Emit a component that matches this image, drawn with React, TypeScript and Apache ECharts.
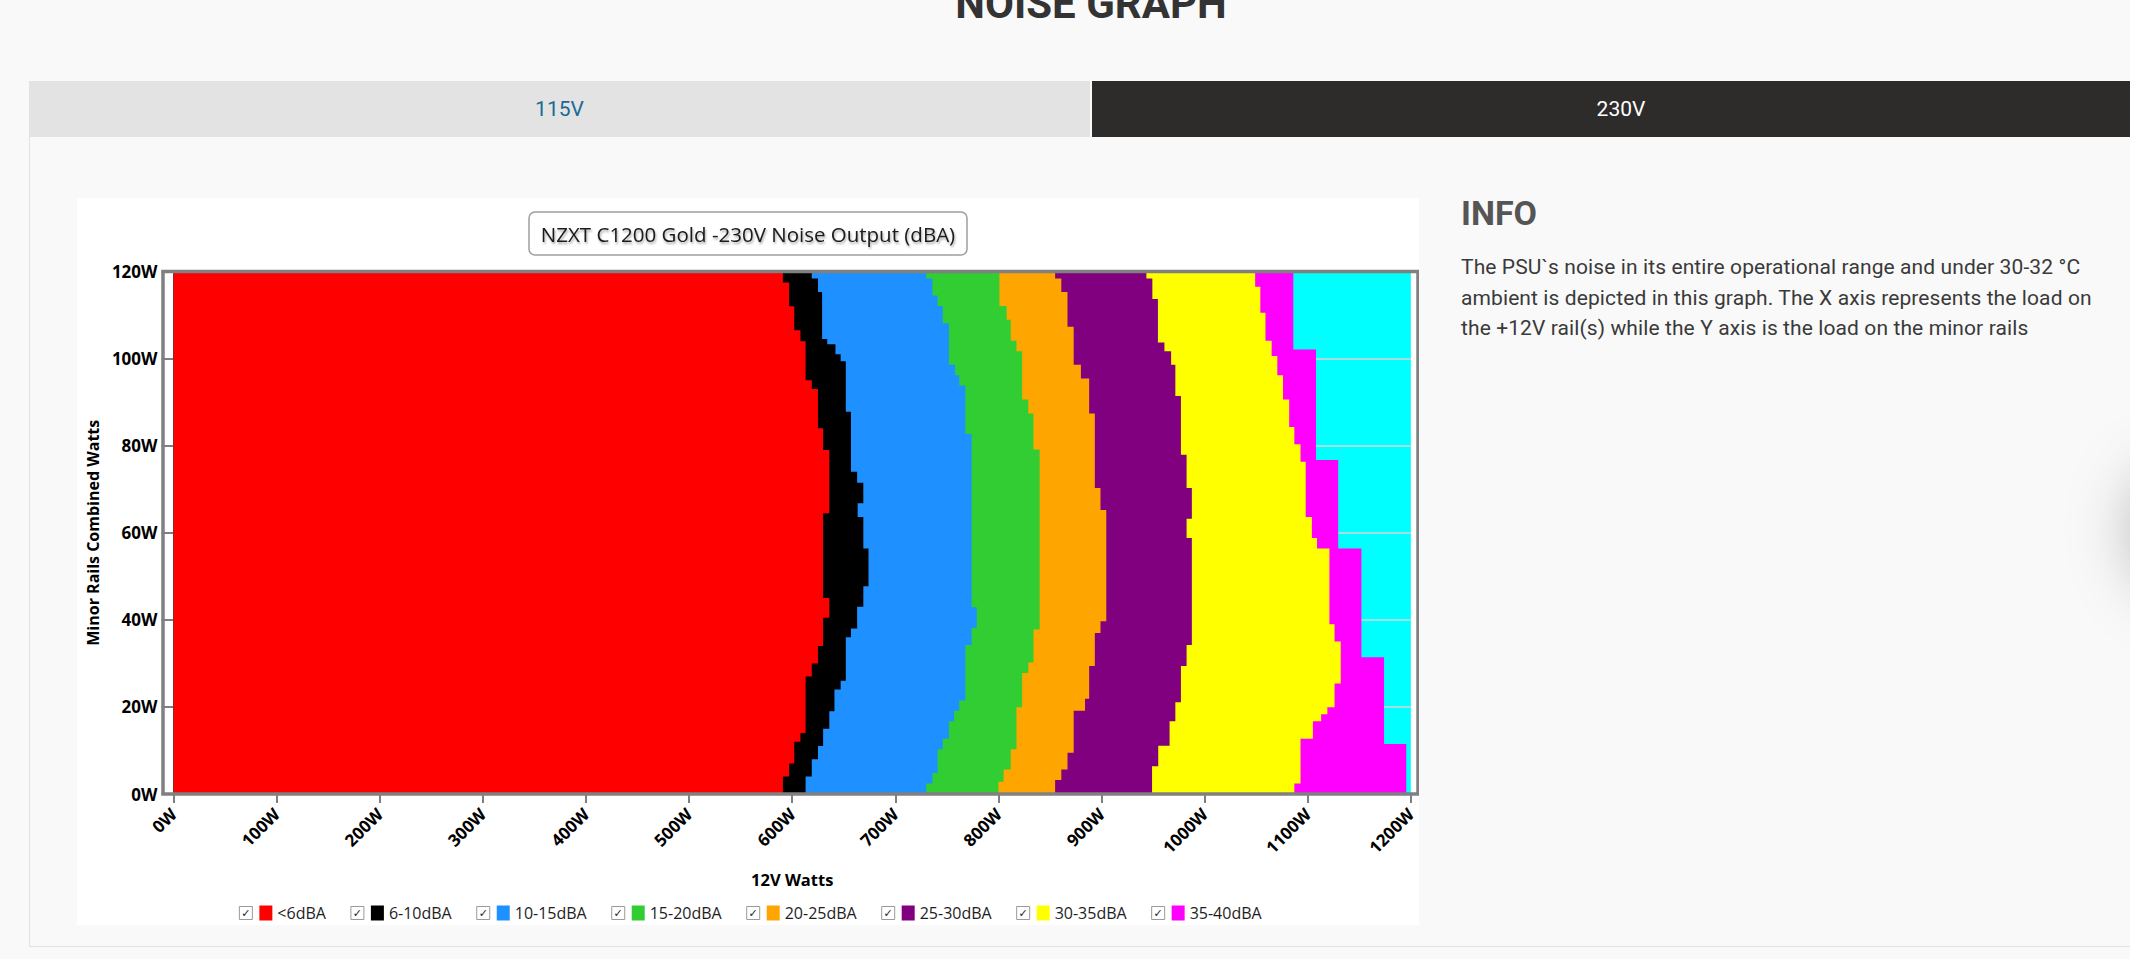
import React, { useRef, useEffect } from "react";
import * as echarts from "echarts";

// noise bands, left to right
const bandNames = ["<6dBA", "6-10dBA", "10-15dBA", "15-20dBA", "20-25dBA", "25-30dBA", "30-35dBA", "35-40dBA"];
const bandColors = ["#ff0000", "#000000", "#1e90ff", "#32cd32", "#ffa500", "#800080", "#ffff00", "#ff00ff"];

const xTickLabels = ["0W", "100W", "200W", "300W", "400W", "500W", "600W", "700W", "800W", "900W", "1000W", "1100W", "1200W"];
const yTickLabels = ["0W", "20W", "40W", "60W", "80W", "100W", "120W"];

// right edge of each band: [minor rails W where the step starts, 12V W]
const redEdge = [[0, 591], [4, 597], [7, 602], [12, 608], [14, 613], [27, 619], [30, 625], [34, 630], [40.5, 636], [45, 630], [64.5, 636], [79, 630], [84, 625], [93, 619], [95, 613], [104, 608], [106.5, 602], [112, 597], [117.5, 591]];
const blackEdge = [[0, 613], [4, 619], [8, 625], [11, 630], [15, 636], [19, 641], [24, 647], [26, 652], [36, 657], [38, 663], [43, 669], [47.7, 674], [56.4, 669], [63.6, 663.5], [66.8, 669], [71.5, 663], [74, 657], [87.8, 652], [99.4, 647], [101, 642], [103.3, 634], [104.5, 629], [115.3, 625], [118.4, 619]];
const blueEdge = [[0, 730], [2.4, 736], [4.8, 741], [10.3, 746], [12.7, 752], [16.7, 757], [19.1, 762], [21.5, 768], [34.2, 774], [38.2, 779], [42.9, 774], [82.7, 768], [93.8, 762], [96.2, 758], [98.6, 752], [108.1, 746], [112.1, 741], [114.5, 736], [118.4, 730]];
const greenEdge = [[0, 800], [2.8, 805], [5.6, 812], [10.3, 817.5], [19.9, 823], [27.8, 829], [30.2, 834], [37.8, 840], [79.1, 834], [87.4, 829], [90.6, 823], [101.7, 817.5], [104.1, 812], [108.9, 808], [112.1, 801]];
const orangeEdge = [[0, 855], [3.2, 861], [5.6, 867], [9.5, 873], [19.1, 884], [21.9, 888], [29.4, 893.5], [37, 899], [39.7, 904.6], [65.2, 899], [70.3, 893.5], [87.4, 888], [95.4, 880], [98.6, 873], [107.3, 867], [115.3, 861], [118.4, 855]];
const purpleEdge = [[0, 949], [6.4, 955], [11.1, 966], [16.7, 971.6], [21.1, 977], [29.4, 982.5], [34.2, 987.6], [58.8, 982.5], [63.2, 987.6], [70.3, 982.5], [77.9, 977], [91.4, 971.6], [98.6, 967.5], [101.7, 961], [103.7, 954.7], [113.7, 949.3], [118.4, 943.5]];
const yellowEdge = [[0, 1087], [2.4, 1093], [12.7, 1105], [16.7, 1113], [18.3, 1119], [19.9, 1126], [25.4, 1132], [35, 1126], [39, 1121], [56.4, 1109], [58.8, 1104], [63.6, 1098], [76.3, 1093], [80.3, 1087], [84.3, 1082], [90.6, 1076], [96.2, 1070.5], [100.6, 1065], [104.1, 1059], [110.5, 1054], [116.5, 1049]];
const magentaEdge = [[0, 1195.5], [11.5, 1174], [31.4, 1152], [56.4, 1129.5], [76.7, 1108], [102.1, 1086]];

const bandEdges = [redEdge, blackEdge, blueEdge, greenEdge, orangeEdge, purpleEdge, yellowEdge, magentaEdge];

const X_MAX = 1200;
const Y_MAX = 120;

function NoiseChart() {
  const chartRef = useRef<HTMLDivElement>(null);

  useEffect(() => {
    if (!chartRef.current) return;
    const chart = echarts.init(chartRef.current, null, { renderer: "svg" });

    // each band is filled from 0W up to its stepped right edge; later (left) bands are drawn on top
    const series = bandNames.map((name, i) => ({
      name,
      type: "custom",
      data: [[0, 0]],
      clip: true,
      itemStyle: { color: bandColors[i] },
      renderItem: (_params: any, api: any) => {
        const edge = bandEdges[i];
        const pts: number[][] = [api.coord([0, 0])];
        edge.forEach(([y, x], j) => {
          const yTop = j + 1 < edge.length ? edge[j + 1][0] : Y_MAX;
          pts.push(api.coord([x, y]), api.coord([x, yTop]));
        });
        pts.push(api.coord([0, Y_MAX]));
        return { type: "polygon", shape: { points: pts }, style: { fill: bandColors[i] } };
      },
    })).reverse();

    const swatchRich: Record<string, any> = {};
    bandColors.forEach((c, i) => {
      swatchRich["c" + i] = { width: 13, height: 15, backgroundColor: c };
    });

    const gridLeft = 86, gridTop = 73.5, gridW = 1255, gridH = 522.5;

    const option = {
      animation: false,
      backgroundColor: "#ffffff",
      textStyle: { fontFamily: "Open Sans" },
      title: {
        text: "NZXT C1200 Gold -230V Noise Output (dBA)",
        left: "center",
        top: 14,
        backgroundColor: "#ffffff",
        borderColor: "#9e9e9e",
        borderWidth: 1.5,
        borderRadius: 6,
        padding: [9, 12, 9, 12],
        textStyle: {
          fontFamily: "Open Sans",
          fontSize: 20.5,
          fontWeight: "normal",
          lineHeight: 25,
          color: "#1a1a1a",
          textShadowColor: "rgba(0,0,0,0.35)",
          textShadowBlur: 2,
          textShadowOffsetX: 1,
          textShadowOffsetY: 2,
        },
      },
      legend: {
        data: bandNames,
        left: "center",
        top: 702,
        itemWidth: 0,
        itemHeight: 0,
        itemGap: 20,
        selectedMode: false,
        formatter: (name: string) => `{cb|✓}{g1|}{c${bandNames.indexOf(name)}|}{g2|}${name}`,
        textStyle: {
          fontFamily: "Open Sans",
          fontSize: 16,
          color: "#1e1e1e",
          rich: {
            cb: {
              width: 13,
              height: 13,
              lineHeight: 13,
              align: "center",
              fontFamily: "DejaVu Sans",
              fontSize: 11,
              color: "#222",
              borderColor: "#9a9a9a",
              borderWidth: 1,
            },
            g1: { width: 7 },
            g2: { width: 5 },
            ...swatchRich,
          },
        },
      },
      grid: {
        left: gridLeft,
        top: gridTop,
        width: gridW,
        height: gridH,
        show: true,
        backgroundColor: "#00ffff",
        borderWidth: 0,
      },
      xAxis: {
        type: "value",
        min: 0,
        max: X_MAX,
        interval: 100,
        name: "12V Watts",
        nameLocation: "middle",
        nameGap: 77,
        nameTextStyle: { fontFamily: "Open Sans", fontSize: 16.5, fontWeight: "bold", color: "#000" },
        axisLine: { show: false },
        axisTick: { show: true, length: 9, lineStyle: { color: "#555", width: 1.5 } },
        splitLine: { show: false },
        axisLabel: {
          rotate: 45,
          margin: 17,
          fontFamily: "Open Sans",
          fontSize: 17,
          fontWeight: "bold",
          color: "#000",
          formatter: (v: number) => xTickLabels[Math.round(v / 100)],
        },
      },
      yAxis: {
        type: "value",
        min: 0,
        max: Y_MAX,
        interval: 20,
        name: "Minor Rails Combined Watts",
        nameLocation: "middle",
        nameGap: 69,
        nameTextStyle: { fontFamily: "Open Sans", fontSize: 16, fontWeight: "bold", color: "#000" },
        axisLine: { show: false },
        axisTick: { show: true, length: 12, lineStyle: { color: "#555", width: 1.5 } },
        splitLine: { show: true, lineStyle: { color: "#d6d6d6", width: 1.5 } },
        axisLabel: {
          margin: 16,
          fontFamily: "Open Sans",
          fontSize: 17,
          fontWeight: "bold",
          color: "#000",
          formatter: (v: number) => yTickLabels[Math.round(v / 20)],
        },
      },
      graphic: [
        {
          type: "rect",
          z: 100,
          silent: true,
          shape: { x: gridLeft, y: gridTop, width: gridW, height: gridH },
          style: { fill: "none", stroke: "#808080", lineWidth: 3.5 },
        },
      ],
      series,
    };

    chart.setOption(option as any);
    return () => chart.dispose();
  }, []);

  return <div ref={chartRef} style={{ position: "absolute", left: 77, top: 198, width: 1342, height: 727 }} />;
}

export default function App() {
  return (
    <div
      style={{
        position: "absolute",
        left: 0,
        top: 0,
        width: 2130,
        height: 959,
        overflow: "hidden",
        background: "#f9f9f9",
        fontFamily: "Roboto, sans-serif",
      }}
    >
      <div
        style={{
          position: "absolute",
          left: 0,
          top: -17,
          width: 2182,
          textAlign: "center",
          font: "bold 42px/42px Roboto",
          color: "#333",
        }}
      >
        NOISE GRAPH
      </div>

      {/* panel */}
      <div
        style={{
          position: "absolute",
          left: 29,
          top: 81,
          width: 2140,
          height: 865,
          borderLeft: "1px solid #e2e2e2",
          borderBottom: "1px solid #e2e2e2",
        }}
      />
      <div
        style={{
          position: "absolute",
          left: 29,
          top: 81,
          width: 1061,
          height: 56,
          background: "#e3e3e3",
          color: "#1b6a96",
          font: "21px/56px Roboto",
          textAlign: "center",
        }}
      >
        115V
      </div>
      <div
        style={{
          position: "absolute",
          left: 1092,
          top: 81,
          width: 1058,
          height: 56,
          background: "#2d2c2a",
          color: "#ffffff",
          font: "21px/56px Roboto",
          textAlign: "center",
        }}
      >
        230V
      </div>

      <NoiseChart />

      <div
        style={{
          position: "absolute",
          left: 1461,
          top: 196,
          font: "bold 34px/34px Roboto",
          color: "#555",
        }}
      >
        INFO
      </div>
      <div
        style={{
          position: "absolute",
          left: 1461,
          top: 252,
          font: "21px/30.5px Roboto",
          letterSpacing: "0.1px",
          color: "#3a3a3a",
          whiteSpace: "nowrap",
        }}
      >
        The PSU`s noise in its entire operational range and under 30-32 °C
        <br />
        ambient is depicted in this graph. The X axis represents the load on
        <br />
        the +12V rail(s) while the Y axis is the load on the minor rails
      </div>

      <div
        style={{
          position: "absolute",
          left: 2150,
          top: 480,
          width: 100,
          height: 100,
          borderRadius: "50%",
          background: "#fff",
          boxShadow: "0 0 70px 12px rgba(0,0,0,0.35)",
        }}
      />
    </div>
  );
}
